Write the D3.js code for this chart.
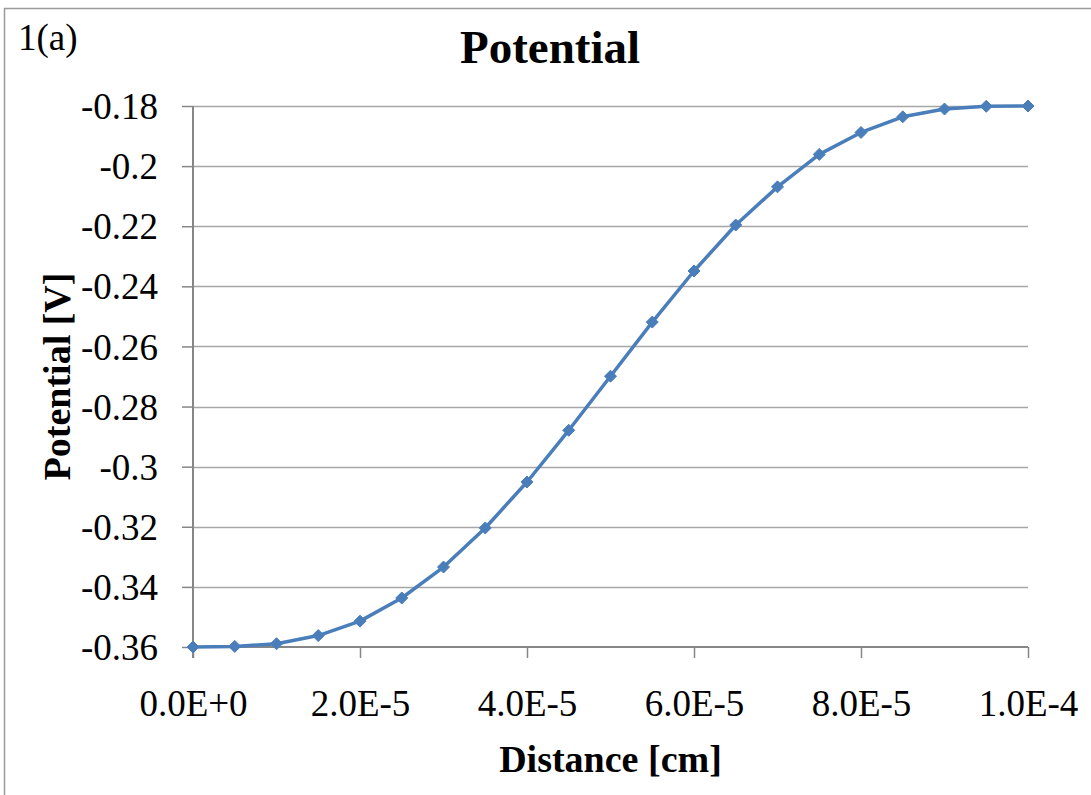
<!DOCTYPE html>
<html>
<head>
<meta charset="utf-8">
<script src="https://cdn.jsdelivr.net/npm/d3@7"></script>
<style>
html,body{margin:0;padding:0;background:#fff;overflow:hidden;}
svg{display:block;}
</style>
</head>
<body>
<svg id="chart" width="1091" height="795"></svg>
<script>
const distance = [0, 5e-6, 1e-5, 1.5e-5, 2e-5, 2.5e-5, 3e-5, 3.5e-5, 4e-5, 4.5e-5, 5e-5,
  5.5e-5, 6e-5, 6.5e-5, 7e-5, 7.5e-5, 8e-5, 8.5e-5, 9e-5, 9.5e-5, 1e-4];
const potential = [-0.36, -0.3598, -0.3589, -0.3562, -0.3514, -0.3437, -0.3334, -0.3204, -0.3051, -0.2879, -0.2699,
  -0.2519, -0.2349, -0.2196, -0.2069, -0.1961, -0.1888, -0.1836, -0.1810, -0.1801, -0.18];
const xTicks = [0, 2e-5, 4e-5, 6e-5, 8e-5, 1e-4];
const xTickLabels = ["0.0E+0", "2.0E-5", "4.0E-5", "6.0E-5", "8.0E-5", "1.0E-4"];
const yTicks = [-0.36, -0.34, -0.32, -0.30, -0.28, -0.26, -0.24, -0.22, -0.20, -0.18];
const yTickLabels = ["-0.36", "-0.34", "-0.32", "-0.3", "-0.28", "-0.26", "-0.24", "-0.22", "-0.2", "-0.18"];

(function () {
const svg = d3.select("#chart");
const font = "'Liberation Serif', 'Times New Roman', serif";

// outer frame (right/bottom edges fall outside the picture)
svg.append("rect").attr("x", 4.5).attr("y", 8.5).attr("width", 1200).attr("height", 900)
  .attr("fill", "none").attr("stroke", "#9a9a9a").attr("stroke-width", 1.5);

const pL = 193, pR = 1028, pT = 106, pB = 647;
const x = d3.scaleLinear().domain([0, 1e-4]).range([pL, pR]);
const y = d3.scaleLinear().domain([-0.36, -0.18]).range([pB, pT]);

// gridlines
svg.append("g").selectAll("line").data(yTicks.slice(1)).join("line")
  .attr("x1", pL).attr("x2", pR)
  .attr("y1", d => Math.round(y(d)) + 0.5).attr("y2", d => Math.round(y(d)) + 0.5)
  .attr("stroke", "#a6a6a6").attr("stroke-width", 1.5);

// y axis
const yAxis = d3.axisLeft(y).tickValues(yTicks)
  .tickFormat((d, i) => yTickLabels[i]).tickSize(11).tickPadding(24).tickSizeOuter(0);
const gy = svg.append("g").attr("transform", `translate(${pL},0)`).call(yAxis);
gy.select(".domain").attr("stroke", "#868686").attr("stroke-width", 2)
  .attr("d", `M0,${pT}V${pB + 11}`);
gy.selectAll(".tick line").attr("stroke", "#868686").attr("stroke-width", 1.5);
gy.selectAll(".tick text").attr("font-family", font).attr("font-size", 37).attr("fill", "#000")
  .attr("dy", "0.34em");

// x axis
const xAxis = d3.axisBottom(x).tickValues(xTicks)
  .tickFormat((d, i) => xTickLabels[i]).tickSize(11).tickPadding(32).tickSizeOuter(0);
const gx = svg.append("g").attr("transform", `translate(0,${pB})`).call(xAxis);
gx.select(".domain").attr("stroke", "#868686").attr("stroke-width", 2)
  .attr("d", `M${pL},0H${pR}`);
gx.selectAll(".tick line").attr("stroke", "#868686").attr("stroke-width", 1.5);
gx.selectAll(".tick text").attr("font-family", font).attr("font-size", 37).attr("fill", "#000");

// line
const pts = distance.map((d, i) => [d, potential[i]]);
svg.append("path").datum(pts)
  .attr("d", d3.line().x(d => x(d[0])).y(d => y(d[1])))
  .attr("fill", "none").attr("stroke", "#4a7ebb").attr("stroke-width", 3.5)
  .attr("stroke-linejoin", "round");

// diamond markers
svg.append("g").selectAll("path").data(pts).join("path")
  .attr("transform", d => `translate(${x(d[0])},${y(d[1])})`)
  .attr("d", "M0,-6L6,0L0,6L-6,0Z")
  .attr("fill", "#4a7ebb").attr("stroke", "#4a7ebb").attr("stroke-width", 1);

// titles
svg.append("text").attr("x", 550).attr("y", 63).attr("text-anchor", "middle")
  .attr("font-family", font).attr("font-weight", "bold").attr("font-size", 47)
  .text("Potential");
svg.append("text").attr("x", 18).attr("y", 50)
  .attr("font-family", font).attr("font-size", 37).text("1(a)");
svg.append("text").attr("x", (pL + pR) / 2).attr("y", 772).attr("text-anchor", "middle")
  .attr("font-family", font).attr("font-weight", "bold").attr("font-size", 38)
  .text("Distance [cm]");
svg.append("text").attr("transform", `translate(70,${(pT + pB) / 2}) rotate(-90)`)
  .attr("text-anchor", "middle")
  .attr("font-family", font).attr("font-weight", "bold").attr("font-size", 38)
  .text("Potential [V]");
})();
</script>
</body>
</html>
